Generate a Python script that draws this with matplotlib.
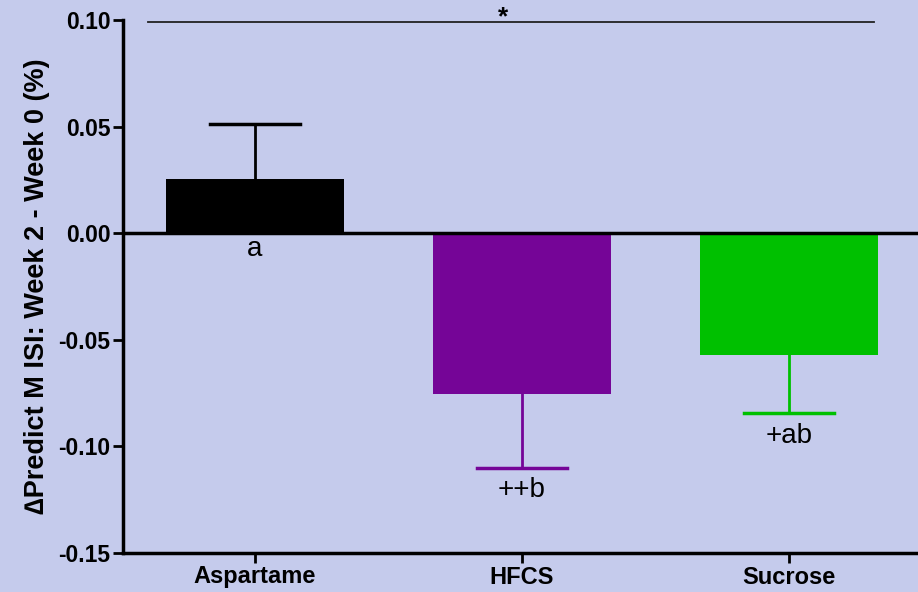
import matplotlib.pyplot as plt

plt.rcParams['font.family'] = ['Liberation Sans', 'DejaVu Sans']

groups = ['Aspartame', 'HFCS', 'Sucrose']
means = [0.0254, -0.0756, -0.0573]
sems = [0.0258, 0.0343, 0.0272]
letters = ['a', '++b', '+ab']
colors = ['#000000', '#750597', '#00C000']
bg = '#C5CBEC'

fig = plt.figure(figsize=(9.18, 5.92), dpi=100, facecolor=bg)
ax = fig.add_axes([123 / 918, 39 / 592, 1 - 123 / 918, 533 / 592])
ax.set_facecolor(bg)

x = range(len(groups))
ax.bar(x, means, width=0.667, color=colors, zorder=2)
for i, (m, s, c) in enumerate(zip(means, sems, colors)):
    end = m + s if m > 0 else m - s
    ax.plot([i, i], [m, end], color=c, lw=2, zorder=1)
    ax.plot([i - 0.17, i + 0.17], [end, end], color=c, lw=2.5, zorder=1)

ax.axhline(0, color='black', lw=2.5, zorder=3)

# letter annotations
ax.text(0, -0.0012, letters[0], ha='center', va='top', fontsize=20)
for i in (1, 2):
    end = means[i] - sems[i]
    ax.text(i, end - 0.0045, letters[i], ha='center', va='top', fontsize=20)

# significance bar
ax.plot([-0.4, 2.32], [0.0992, 0.0992], color='#222222', lw=1.3, clip_on=False)
ax.text(0.93, 0.1012, '*', ha='center', va='center', fontsize=19,
        fontweight='bold', clip_on=False)

ax.set_xlim(-0.494, 2.483)
ax.set_ylim(-0.15, 0.10)
ax.set_yticks([-0.15, -0.10, -0.05, 0.00, 0.05, 0.10])
ax.set_yticklabels(['-0.15', '-0.10', '-0.05', '0.00', '0.05', '0.10'])
ax.set_xticks(list(x))
ax.set_xticklabels(groups)
for lbl in ax.get_yticklabels():
    lbl.set_fontweight('bold')
    lbl.set_fontsize(16.5)
for lbl in ax.get_xticklabels():
    lbl.set_fontweight('bold')
    lbl.set_fontsize(17)

ax.spines['top'].set_visible(False)
ax.spines['right'].set_visible(False)
ax.spines['left'].set_linewidth(2.5)
ax.spines['bottom'].set_linewidth(2.5)
ax.tick_params(axis='both', width=2, length=7, pad=2)

ax.set_ylabel('\u2206Predict M ISI: Week 2 - Week 0 (%)', fontsize=19.5,
              fontweight='bold', labelpad=6)

plt.savefig('out.png', dpi=100, facecolor=bg)
